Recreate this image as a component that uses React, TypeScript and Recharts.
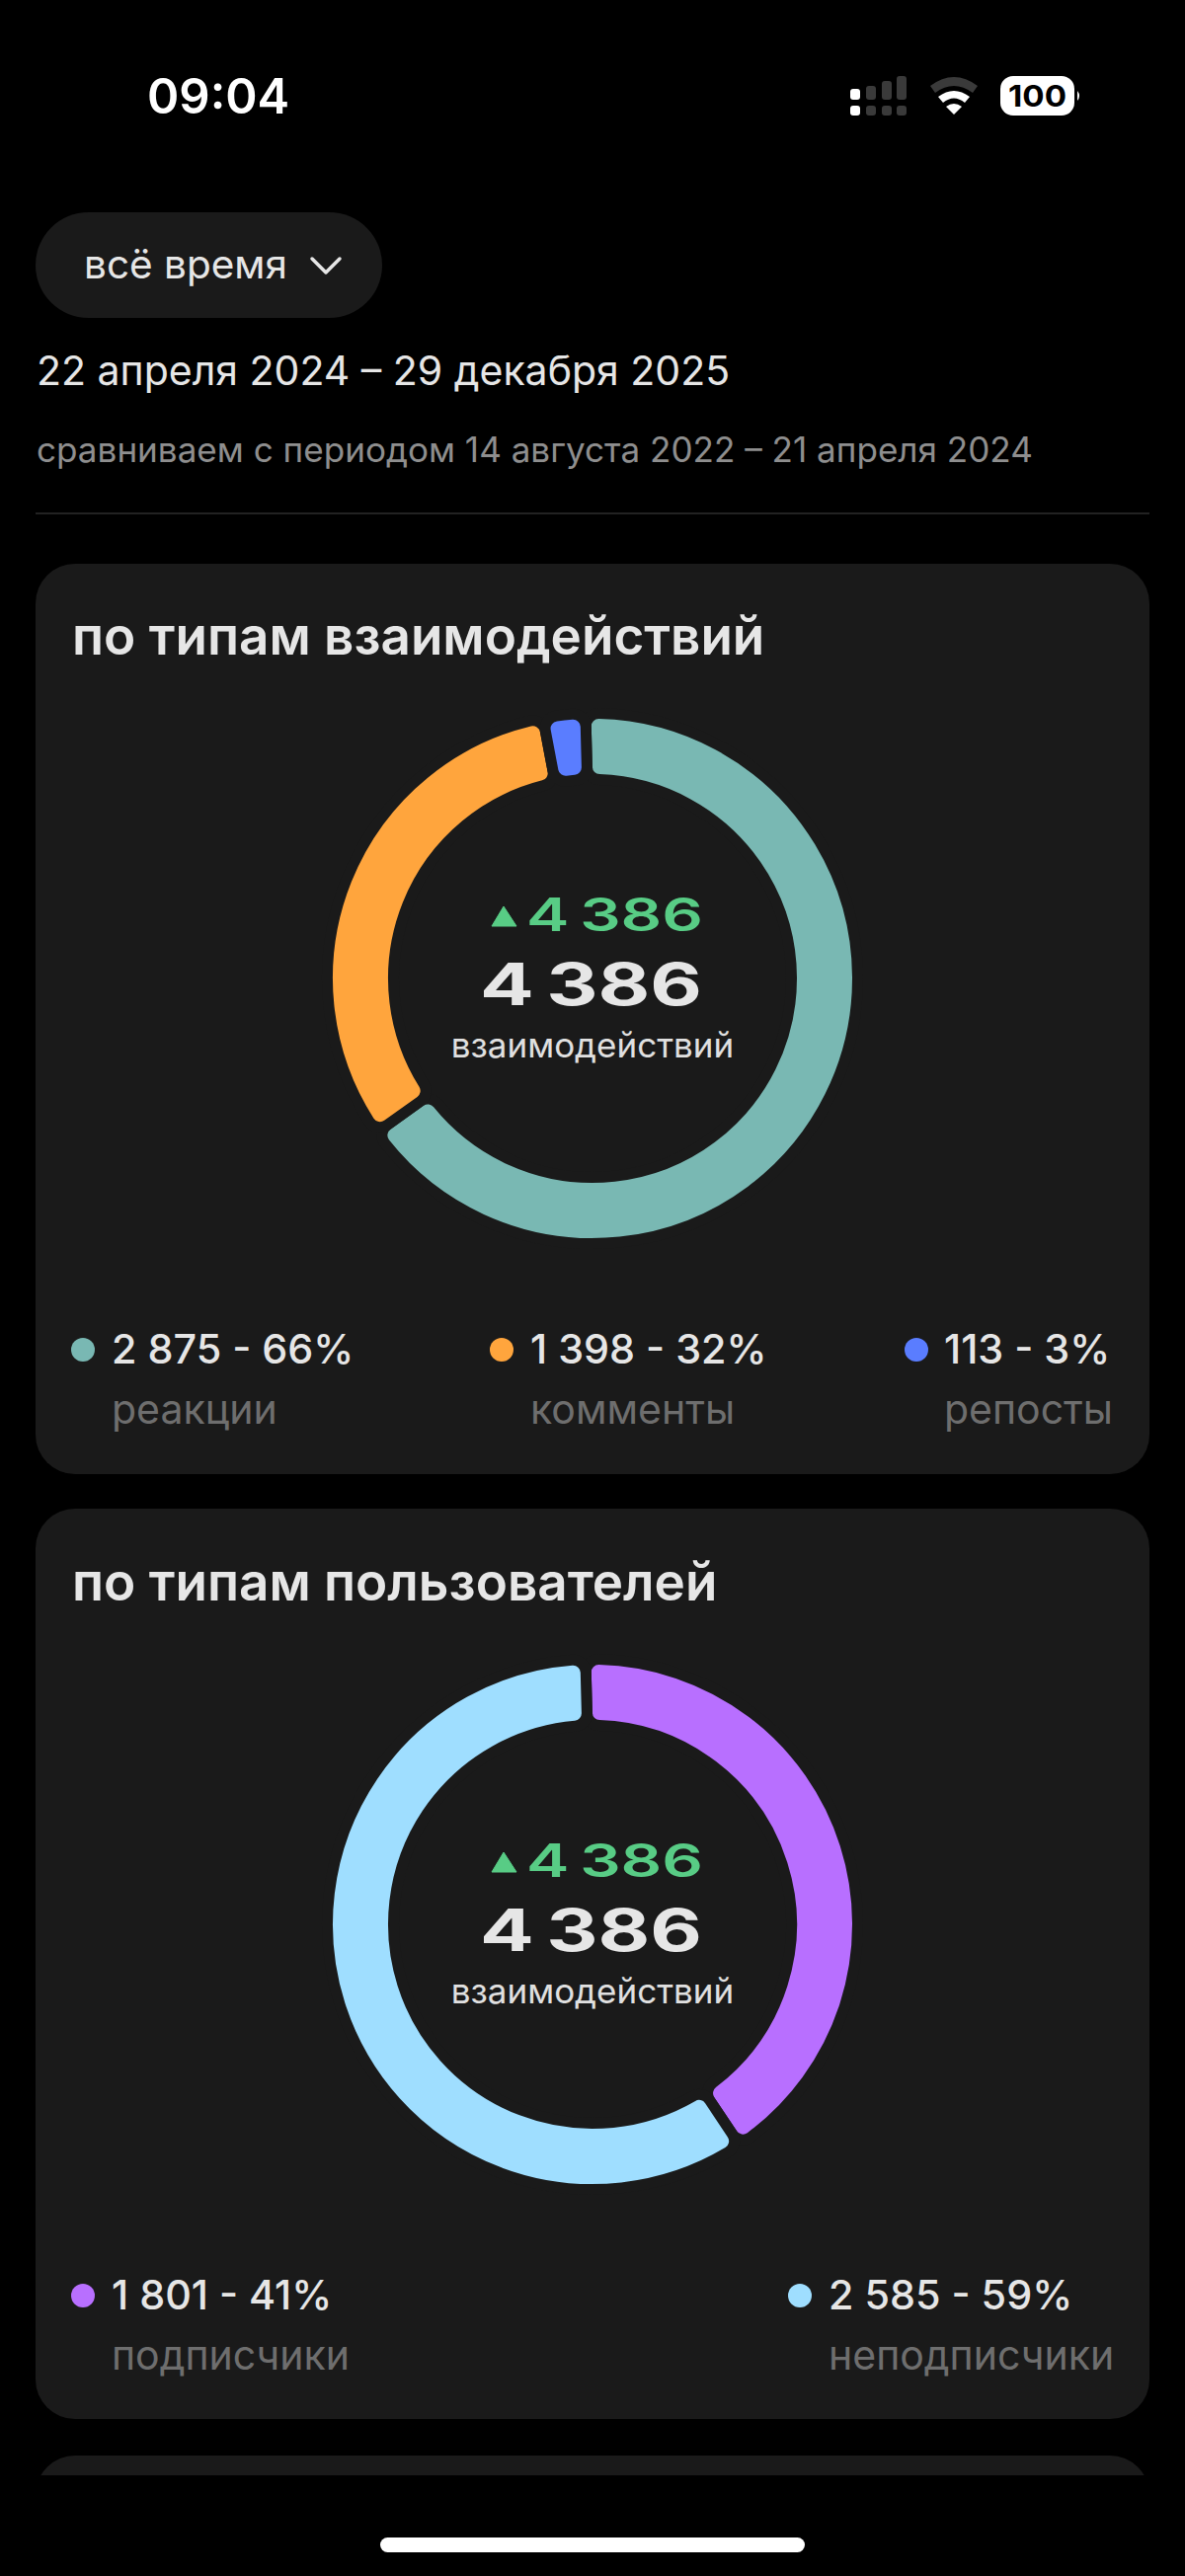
import { Cell, Pie, PieChart } from 'recharts'

const typeLabels = ['реакции', 'комменты', 'репосты']
const typeValues = [2875, 1398, 113]
const typeShares = ['66%', '32%', '3%']
const typeColors = ['#79B8B3', '#FFA53D', '#5A7DFF']

const userLabels = ['подписчики', 'неподписчики']
const userValues = [1801, 2585]
const userShares = ['41%', '59%']
const userColors = ['#B86FFF', '#9FDEFF']

const totalText = '4 386'
const centerLabel = 'взаимодействий'

const font = 'Inter, "Noto Sans", sans-serif'
const cardBg = '#1A1A1A'
const textMain = '#E6E6E6'
const textDim = '#6E6E6E'
const green = '#58CC85'

const fmt = (v: number) => String(v).replace(/\B(?=(\d{3})+$)/g, ' ')

function Donut({ values, labels, colors, top }: { values: number[]; labels: string[]; colors: string[]; top: number }) {
  const rows = labels.map((name, i) => ({ name, value: values[i] }))
  return (
    <div style={{ position: 'absolute', left: 300, top, width: 600, height: 600 }}>
      <PieChart width={600} height={600} margin={{ top: 0, right: 0, bottom: 0, left: 0 }}>
        <Pie
          data={rows}
          dataKey="value"
          nameKey="name"
          cx={300}
          cy={300}
          startAngle={91.5}
          endAngle={-268.5}
          innerRadius={201.5}
          outerRadius={268.5}
          cornerRadius={13}
          paddingAngle={0}
          stroke={cardBg}
          strokeWidth={11}
          isAnimationActive={false}
        >
          {rows.map((r, i) => (
            <Cell key={r.name} fill={colors[i]} />
          ))}
        </Pie>
        <path d="M198 247 L210 227 L223 247 Z" fill={green} stroke={green} strokeWidth={1} strokeLinejoin="round" />
        <text
          x={233}
          y={252}
          fontFamily={font}
          fontSize={46}
          fontWeight={600}
          fill={green}
          wordSpacing={-4}
          textLength={179}
          lengthAdjust="spacingAndGlyphs"
        >
          {totalText}
        </text>
        <text
          x={186}
          y={327}
          fontFamily={font}
          fontSize={59}
          fontWeight={700}
          fill={textMain}
          wordSpacing={-5}
          textLength={225}
          lengthAdjust="spacingAndGlyphs"
        >
          {totalText}
        </text>
        <text x={300} y={380} textAnchor="middle" fontFamily={font} fontSize={35} fill="#E0E0E0">
          {centerLabel}
        </text>
      </PieChart>
    </div>
  )
}

function LegendItem({ color, value, share, label, dotX, textX, y }: {
  color: string
  value: number
  share: string
  label: string
  dotX: number
  textX: number
  y: number
}) {
  return (
    <g fontFamily={font}>
      <circle cx={dotX} cy={y - 14} r={12} fill={color} />
      <text x={textX} y={y} fontSize={41.3} fontWeight={500} fill={textMain}>
        {`${fmt(value)} - ${share}`}
      </text>
      <text x={textX} y={y + 61} fontSize={41} fill={textDim}>
        {label}
      </text>
    </g>
  )
}

function Card({ top, height }: { top: number; height: number }) {
  return (
    <div
      style={{ position: 'absolute', left: 36, top, width: 1128, height, background: cardBg, borderRadius: 40 }}
    />
  )
}

export default function App() {
  return (
    <div style={{ position: 'absolute', left: 0, top: 0, width: 1200, height: 2609, background: '#000', overflow: 'hidden' }}>
      <Card top={571} height={922} />
      <Card top={1528} height={922} />
      <div style={{ position: 'absolute', left: 0, top: 2487, width: 1200, height: 20, overflow: 'hidden' }}>
        <Card top={0} height={200} />
      </div>

      <svg width={1200} height={2609} style={{ position: 'absolute', left: 0, top: 0 }} fontFamily={font}>
        {/* status bar */}
        <text x={149} y={115} fontSize={49} fontWeight={600} fill="#fff">09:04</text>
        <g fill="#3A3A3A">
          <rect x={861} y={90} width={10} height={11} rx={3} fill="#fff" />
          <rect x={877} y={87} width={10} height={14} rx={3} />
          <rect x={893} y={82} width={10} height={19} rx={3} />
          <rect x={908} y={77} width={10} height={24} rx={3} />
          <rect x={861} y={107} width={10} height={10} rx={3} fill="#fff" />
          <rect x={877} y={107} width={10} height={10} rx={3} />
          <rect x={893} y={107} width={10} height={10} rx={3} />
          <rect x={908} y={107} width={10} height={10} rx={3} />
        </g>
        <path d="M942 87 Q966 69 990 87 L985 94 Q966 80 947 94 Z" fill="#3A3A3A" />
        <path d="M950 98 Q966 86 982 98 L977 104 Q966 95 955 104 Z" fill="#fff" />
        <path d="M958 108 Q966 102 974 108 L966 116 Z" fill="#fff" />
        <rect x={1013} y={77} width={75} height={40} rx={13} fill="#fff" />
        <path d="M1091 92 Q1095 97 1091 102 Z" fill="#fff" />
        <text x={1021} y={108} fontSize={30} fontWeight={700} fill="#000" textLength={59} lengthAdjust="spacingAndGlyphs">100</text>

        {/* period header */}
        <rect x={36} y={215} width={351} height={107} rx={53.5} fill={cardBg} />
        <text x={85} y={282} fontSize={40.5} fill={textMain}>всё время</text>
        <path d="M316 262 L330 276 L344 262" fill="none" stroke={textMain} strokeWidth={3.5} strokeLinecap="round" strokeLinejoin="round" />
        <text x={37} y={390} fontSize={41} fill={textMain}>22 апреля 2024 – 29 декабря 2025</text>
        <text x={37} y={468} fontSize={35.1} fill="#8E8E8E">сравниваем с периодом 14 августа 2022 – 21 апреля 2024</text>
        <rect x={36} y={519} width={1128} height={2} fill="#222" />

        {/* card titles */}
        <text x={73} y={663} fontSize={53} fontWeight={600} fill={textMain}>по типам взаимодействий</text>
        <text x={73} y={1621} fontSize={53} fontWeight={600} fill={textMain}>по типам пользователей</text>

        {/* legends */}
        <LegendItem color={typeColors[0]} value={typeValues[0]} share={typeShares[0]} label={typeLabels[0]} dotX={84} textX={113} y={1381} />
        <LegendItem color={typeColors[1]} value={typeValues[1]} share={typeShares[1]} label={typeLabels[1]} dotX={508} textX={537} y={1381} />
        <LegendItem color={typeColors[2]} value={typeValues[2]} share={typeShares[2]} label={typeLabels[2]} dotX={928} textX={956} y={1381} />
        <LegendItem color={userColors[0]} value={userValues[0]} share={userShares[0]} label={userLabels[0]} dotX={84} textX={113} y={2339} />
        <LegendItem color={userColors[1]} value={userValues[1]} share={userShares[1]} label={userLabels[1]} dotX={810} textX={839} y={2339} />

        {/* home indicator */}
        <rect x={385} y={2570} width={430} height={15} rx={7.5} fill="#fff" />
      </svg>

      <Donut values={typeValues} labels={typeLabels} colors={typeColors} top={691} />
      <Donut values={userValues} labels={userLabels} colors={userColors} top={1649} />
    </div>
  )
}
